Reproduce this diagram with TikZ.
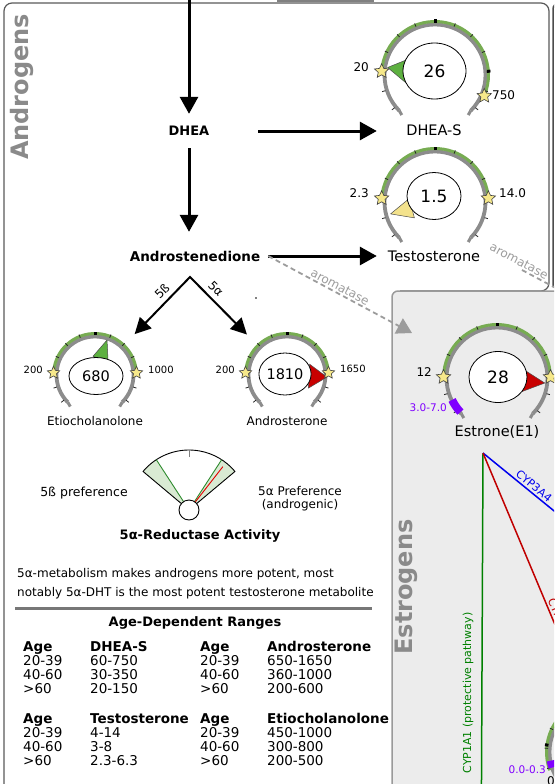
\documentclass[tikz,border=0pt]{standalone}
\usepackage{fontspec}
\setmainfont{DejaVu Sans}
\usetikzlibrary{arrows.meta,shapes.geometric,calc}
\definecolor{ringgray}{HTML}{8C8C8C}
\definecolor{ringgreen}{HTML}{77AC52}
\definecolor{staryellow}{HTML}{F6E88A}
\definecolor{ptrgreen}{HTML}{5DB040}
\definecolor{ptrred}{HTML}{C80000}
\definecolor{ptryellow}{HTML}{F3E28C}
\definecolor{estrofill}{HTML}{ECECEC}
\definecolor{panelgray}{HTML}{9A9A9A}
\definecolor{labelgray}{HTML}{8A8A8A}
\definecolor{aromgray}{HTML}{9C9C9C}
\definecolor{purp}{HTML}{7F00FF}
\definecolor{fangreen}{HTML}{D9EAD3}
\definecolor{fanline}{HTML}{2E8B2E}
\definecolor{cypgreen}{HTML}{008000}
\definecolor{cypblue}{HTML}{0000EE}
\definecolor{cypred}{HTML}{C00000}
\definecolor{rulegray}{HTML}{777777}
\newcommand{\myfs}[1]{\fontsize{#1}{#1}\selectfont}
% #1 x, #2 y, #3 gray radius, #4 green start, #5 green end, #6 big ticks
\newcommand{\mygauge}[6]{%
  \pgfmathsetmacro{\mygr}{#3+3}%
  \pgfmathsetmacro{\mytin}{#3+1.5}%
  \pgfmathsetmacro{\mytout}{#3+5}%
  \draw[ringgray, line width=3.8pt] ($(#1,#2)+(225:#3)$) arc[start angle=225, end angle=-45, radius=#3];
  \draw[ringgray, line width=3pt] ($(#1,#2)+(225:#3)$) -- ++(300:5);
  \draw[ringgray, line width=3pt] ($(#1,#2)+(-45:#3)$) -- ++(240:5);
  \draw[ringgreen, line width=3pt] ($(#1,#2)+(#4:\mygr)$) arc[start angle=#4, end angle=#5, radius=\mygr];
  \foreach \a in {-39,-17.5,...,219}{\draw[black!85, line width=0.8pt] ($(#1,#2)+(\a:\mytin)$) -- ($(#1,#2)+(\a:\mytout)$);}
  \foreach \a in {#6}{\draw[black, line width=3pt] ($(#1,#2)+(\a:\mytin)$) -- ($(#1,#2)+(\a:\mytout)$);}
}
% #1 x, #2 y, #3 angle, #4 tip radius, #5 base radius, #6 half width, #7 colour
\newcommand{\myptr}[7]{%
  \pgfmathsetmacro{\mypa}{#3+90}%
  \pgfmathsetmacro{\mypb}{#3-90}%
  \filldraw[fill=#7, draw=black!70, line width=0.5pt, line join=round] ($(#1,#2)+(#3:#4)$) -- ($(#1,#2)+(#3:#5)+(\mypa:#6)$) -- ($(#1,#2)+(#3:#5)+(\mypb:#6)$) -- cycle;
}
\begin{document}
\begin{tikzpicture}[x=1pt,y=1pt,
  bigarrow/.style={line width=3pt, -{Triangle[length=17pt,width=18pt]}},
  aromarrow/.style={aromgray, line width=1.8pt, dash pattern=on 5pt off 3.5pt, -{Triangle[length=15pt,width=17pt]}},
  aromline/.style={aromgray, line width=1.8pt, dash pattern=on 5pt off 3.5pt},
  mainlbl/.style={font=\bfseries\myfs{13}, minimum width=138pt, minimum height=34pt, inner sep=0pt},
  glbl/.style={font=\myfs{14.5}, inner sep=0pt},
  slbl/.style={font=\myfs{12}, inner sep=0pt},
  vall/.style={ellipse, draw=black, line width=0.8pt, fill=white, inner sep=0pt},
  gstar/.style={star, star points=5, star point ratio=2.1, minimum size=15pt, inner sep=0pt, fill=staryellow, draw=black!75, line width=0.6pt},
  sstar/.style={gstar, minimum size=13pt},
  rlab/.style={font=\myfs{12}, inner sep=0pt},
  srlab/.style={font=\myfs{10}, inner sep=0pt},
  gbox/.style={draw=none, minimum width=116pt, minimum height=116pt, inner sep=0pt},
  gcirc/.style={circle, draw=none, minimum size=113.5pt, inner sep=0pt},
  aromlbl/.style={font=\myfs{12}, text=aromgray, rotate=-28, inner sep=0pt},
  bigtitle/.style={font=\bfseries\myfs{24}, text=labelgray, rotate=90, inner sep=0pt}
]
\useasboundingbox (0,0) rectangle (554,-784);
\clip (0,0) rectangle (554,-784);
% panels
\draw[black!65, line width=1.2pt, rounded corners=8pt] (4,-800) -- (4,-3) -- (549,-3) -- (549,-291) -- (400,-291);
\draw[black!70, line width=1.5pt] (553,-287) -- (553,-9) arc[start angle=180, end angle=90, radius=6];
\draw[gray, line width=1.5pt] (277,-0.8) -- (374,-0.8);
\filldraw[fill=estrofill, draw=panelgray, line width=1.5pt, rounded corners=6pt] (392,-820) rectangle (640,-291);
\node[bigtitle] (androgens) at (22,-87) {Androgens};
\node[bigtitle] (estrogens) at (406,-587) {Estrogens};

% main pathway
\node[mainlbl] (dhea) at (189,-131) {DHEA};
\node[mainlbl, font=\bfseries\myfs{13.5}, minimum width=146pt] (andro) at (195,-256) {Androstenedione};
\coordinate (topin) at (189,0);
\draw[bigarrow] (topin) -- (dhea.north);
\draw[bigarrow, shorten >=7pt] (dhea.south) -- (dhea.south |- andro.north);

% DHEA-S gauge
\mygauge{435}{-75}{50.5}{176}{-23}{90,4}
\myptr{435}{-75}{171}{48}{28}{12}{ptrgreen}
\node[vall, minimum width=63pt, minimum height=56pt, font=\myfs{17}] (vDHEAS) at (434.5,-71) {26};
\node[gstar] (sDHa) at ($(435,-75)+(176:53.5)$) {};
\node[gstar] (sDHb) at ($(435,-75)+(-23:53.5)$) {};
\node[rlab, anchor=east] (lDHa) at (369,-67) {20};
\node[rlab, anchor=west] (lDHb) at (492,-95) {750};
\node[glbl] (dheas) at (434,-130) {DHEA-S};
\node[gbox] (gDHEAS) at (435,-75) {};
\draw[bigarrow] (dhea.east) -- (dhea.east -| gDHEAS.west);

% Testosterone gauge
\mygauge{435}{-202}{50.5}{176}{4}{90,4}
\myptr{435}{-202}{195}{46}{24}{10}{ptryellow}
\node[vall, minimum width=54pt, minimum height=47pt, font=\myfs{17}] (vTesto) at (434,-196) {1.5};
\node[gstar] (sTa) at ($(435,-202)+(176:53.5)$) {};
\node[gstar] (sTb) at ($(435,-202)+(4:53.5)$) {};
\node[rlab, anchor=east] (lTa) at (369,-193) {2.3};
\node[rlab, anchor=west] (lTb) at (499,-193) {14.0};
\node[glbl] (testo) at (434,-256) {Testosterone};
\node[gbox] (gTesto) at (435,-202) {};
\draw[bigarrow] (andro.east) -- (andro.east -| gTesto.west);

% 5b / 5a split
\coordinate (fork) at (190,-277);
\node[gcirc] (gEtio) at (95,-375) {};
\node[gcirc] (gAndro) at (287,-375) {};
\draw[line width=2pt, line join=miter, {Triangle[length=16pt,width=16pt]}-{Triangle[length=16pt,width=16pt]}] (gEtio) -- (fork) -- (gAndro);
\node[font=\myfs{12}, rotate=45, inner sep=0pt] (l5b) at (162,-291) {5ß};
\node[font=\myfs{12}, rotate=-45, inner sep=0pt] (l5a) at (216,-289) {5α};
\fill (256,-298) circle (0.8);

% Etiocholanolone gauge
\mygauge{95}{-375}{38.5}{177}{3}{90,4}
\myptr{95}{-375}{71}{37}{17}{8}{ptrgreen}
\node[vall, minimum width=54pt, minimum height=37pt, font=\myfs{14.5}] (vEtio) at (96,-376) {680};
\node[sstar] (sEa) at ($(95,-375)+(177:41.5)$) {};
\node[sstar] (sEb) at ($(95,-375)+(3:41.5)$) {};
\node[srlab, anchor=east] (lEa) at (43,-370) {200};
\node[srlab, anchor=west] (lEb) at (148,-370) {1000};
\node[slbl] (etio) at (95,-421) {Etiocholanolone};

% Androsterone gauge
\mygauge{287}{-375}{38.5}{177}{3}{90,4}
\myptr{287}{-375}{-3}{40}{22}{12}{ptrred}
\node[vall, minimum width=52pt, minimum height=42pt, font=\myfs{14.5}] (vAndro) at (285,-374) {1810};
\node[sstar] (sAa) at ($(287,-375)+(177:41.5)$) {};
\node[sstar] (sAb) at ($(287,-375)+(3:41.5)$) {};
\node[srlab, anchor=east] (lAa) at (235,-370) {200};
\node[srlab, anchor=west] (lAb) at (340,-369) {1650};
\node[slbl] (androst) at (287,-421) {Androsterone};

% aromatase
\coordinate (aromtip) at (412,-333);
\draw[aromarrow] (andro.east) -- (aromtip);
\node[aromlbl] (arom1) at (340,-287) {aromatase};
\coordinate (arom2a) at (522,-270);
\coordinate (arom2b) at (580,-301);
\draw[aromline] (arom2a) -- (arom2b);
\node[aromlbl] (arom2) at (519,-261) {aromatase};

% Estrone gauge
\mygauge{497}{-378}{50.5}{179}{1}{90,4}
\draw[purp, line width=8pt] ($(497,-378)+(206:50)$) arc[start angle=206, end angle=223, radius=50];
\myptr{497}{-378}{-6}{48}{26}{11}{ptrred}
\node[vall, minimum width=58pt, minimum height=51pt, font=\myfs{17}] (vEstrone) at (498,-377) {28};
\node[gstar] (sEsa) at ($(497,-378)+(179:53.5)$) {};
\node[gstar] (sEsb) at ($(497,-378)+(1:53.5)$) {};
\node[rlab, anchor=east] (lEsa) at (432,-372) {12};
\node[font=\myfs{10.5}, text=purp, anchor=east, inner sep=0pt] (lEsr) at (447,-408) {3.0-7.0};
\node[glbl] (estrone) at (497,-432) {Estrone(E1)};

% estrone pathways
\coordinate (e1) at (483,-453);
\coordinate (c1a1end) at (481.4,-800);
\coordinate (c3a4end) at (640,-581);
\coordinate (c1b1end) at (600,-732);
\draw[cypgreen, line width=1.5pt] (e1) -- (c1a1end);
\draw[cypblue, line width=1.5pt] (e1) -- (c3a4end);
\draw[cypred, line width=1.5pt] (e1) -- (c1b1end);
\node[font=\myfs{11}, text=cypgreen, rotate=90, inner sep=0pt] (lc1a1) at (468,-693) {CYP1A1 (protective pathway)};
\node[font=\myfs{11}, text=cypblue, rotate=-39, inner sep=0pt] (lc3a4) at (534,-486) {CYP3A4};
\node[font=\myfs{11}, text=cypred, rotate=-67, anchor=south west, inner sep=1pt] (lc1b1) at (546,-600) {CYP1B1};

% bottom right gauge
\mygauge{600}{-752}{50.5}{200}{-20}{90,172.5}
\draw[purp, line width=8pt] ($(600,-752)+(190:50)$) arc[start angle=190, end angle=198, radius=50];
\node[font=\myfs{10.5}, text=purp, anchor=east, inner sep=0pt] (lbr) at (546,-770) {0.0-0.3};
\node[font=\myfs{12}, anchor=west, inner sep=0pt] (lbr2) at (547,-781) {0};

% 5a-reductase fan
\fill[fangreen] (189,-510) -- ++(140:60) arc[start angle=140, end angle=123, radius=60] -- cycle;
\fill[fangreen] (189,-510) -- ++(57:60) arc[start angle=57, end angle=40, radius=60] -- cycle;
\draw[black, line width=0.9pt, line join=round] (189,-510) -- ++(140:60) arc[start angle=140, end angle=40, radius=60] -- cycle;
\draw[fanline, line width=0.9pt] (189,-510) -- ++(123:60);
\draw[fanline, line width=0.9pt] (189,-510) -- ++(57:60);
\draw[red!90!black, line width=0.9pt] ($(189,-510)+(52:8)$) -- ($(189,-510)+(52:55)$);
\draw[gray, line width=0.9pt] ($(189,-510)+(90:53)$) -- ($(189,-510)+(90:60)$);
\node[circle, draw=black, fill=white, line width=0.9pt, minimum size=20pt, inner sep=0pt] (hub) at (189,-510) {};
\node[font=\myfs{12.5}, inner sep=0pt] (pref5b) at (84,-493) {5ß preference};
\node[font=\fontsize{12}{13}\selectfont, align=center, inner sep=0pt] (pref5a) at (300,-499) {5α Preference\\(androgenic)};
\node[font=\bfseries\myfs{13}, inner sep=0pt] (redtitle) at (200,-536) {5α-Reductase Activity};

% text
\node[font=\myfs{12}, anchor=base west, inner sep=0pt] (para1) at (17,-577.5) {5α-metabolism makes androgens more potent, most};
\node[font=\myfs{12}, anchor=base west, inner sep=0pt] (para2) at (17,-596.5) {notably 5α-DHT is the most potent testosterone metabolite};
\draw[rulegray, line width=3pt] (15,-608) -- (372,-608);
\node[font=\bfseries\myfs{13}, inner sep=0pt] (agetitle) at (195,-623) {Age-Dependent Ranges};
\node[anchor=base west, inner sep=0pt, font=\fontsize{13.5}{13}\selectfont] (tblA) at (23,-651.5) {\begin{tabular}[t]{@{}p{67pt}@{}p{110pt}@{}p{67pt}@{}l@{}}\textbf{Age} & \textbf{DHEA-S} & \textbf{Age} & \textbf{Androsterone}\\ 20-39 & 60-750 & 20-39 & 650-1650\\ 40-60 & 30-350 & 40-60 & 360-1000\\ >60 & 20-150 & >60 & 200-600\end{tabular}};
\node[anchor=base west, inner sep=0pt, font=\fontsize{13.5}{13}\selectfont] (tblB) at (23,-723.5) {\begin{tabular}[t]{@{}p{67pt}@{}p{110pt}@{}p{67pt}@{}l@{}}\textbf{Age} & \textbf{Testosterone} & \textbf{Age} & \textbf{Etiocholanolone}\\ 20-39 & 4-14 & 20-39 & 450-1000\\ 40-60 & 3-8 & 40-60 & 300-800\\ >60 & 2.3-6.3 & >60 & 200-500\end{tabular}};
\end{tikzpicture}
\end{document}
